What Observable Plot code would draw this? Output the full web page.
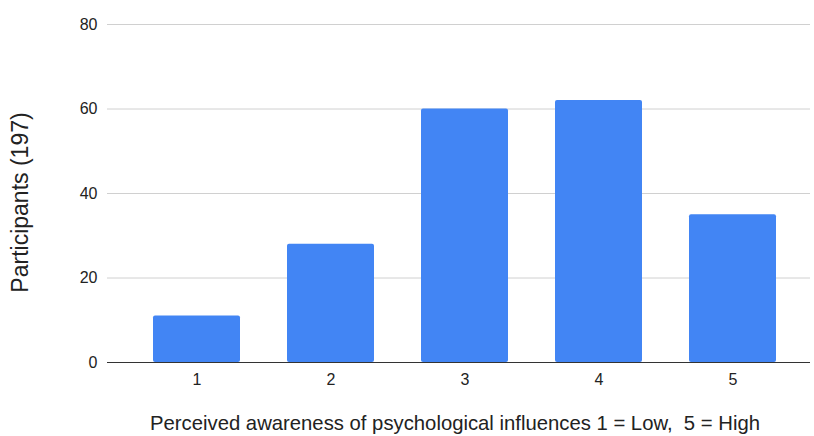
<!DOCTYPE html>
<html>
<head>
<meta charset="utf-8">
<script src="https://cdn.jsdelivr.net/npm/d3@7"></script>
<script src="https://cdn.jsdelivr.net/npm/@observablehq/plot@0.6"></script>
<style>
  html, body { margin: 0; padding: 0; background: #fff; }
  svg { display: block; }
</style>
</head>
<body>
<div id="chart"></div>
<script>
// Awareness ratings (1 = Low, 5 = High) and number of participants for each
const ratings = ["1", "2", "3", "4", "5"];
const participants = [11, 28, 60, 62, 35];
const yTicks = [0, 20, 40, 60, 80];
const yTitle = "Participants (197)";
const xTitle = "Perceived awareness of psychological influences 1 = Low,  5 = High";

const data = ratings.map((r, i) => ({rating: r, count: participants[i]}));

const font = "Liberation Sans, Arial, Helvetica, sans-serif";

const chart = Plot.plot({
  width: 814,
  height: 436,
  marginLeft: 107,
  marginRight: 4,
  marginTop: 24,
  marginBottom: 74,
  style: {fontFamily: font, fontSize: "16px", color: "#222", background: "#fff"},
  x: {domain: ratings, range: [129.5, 799.5], paddingInner: 0.35, paddingOuter: 0.175},
  y: {domain: [0, 80]},
  marks: [
    Plot.ruleY(yTicks.filter(d => d > 0), {stroke: "#d0d0d0", strokeWidth: 1}),
    Plot.barY(data, {x: "rating", y: "count", fill: "#4285f4", rx: 2}),
    Plot.ruleY([0], {stroke: "#333", strokeWidth: 1}),
    Plot.axisY({ticks: yTicks, tickSize: 0, tickPadding: 10, label: null, fontSize: 16}),
    Plot.axisX({tickSize: 0, tickPadding: 11, label: null, fontSize: 16}),
    // Axis titles
    Plot.text([yTitle], {
      frameAnchor: "left", textAnchor: "middle", lineAnchor: "middle",
      rotate: -90, dx: -87, dy: 9, fontSize: 23, fill: "#222"
    }),
    Plot.text([xTitle], {
      frameAnchor: "bottom", textAnchor: "middle", lineAnchor: "middle",
      dx: -4, dy: 61, fontSize: 20.3, fill: "#222"
    })
  ]
});

document.getElementById("chart").appendChild(chart);
</script>
</body>
</html>
